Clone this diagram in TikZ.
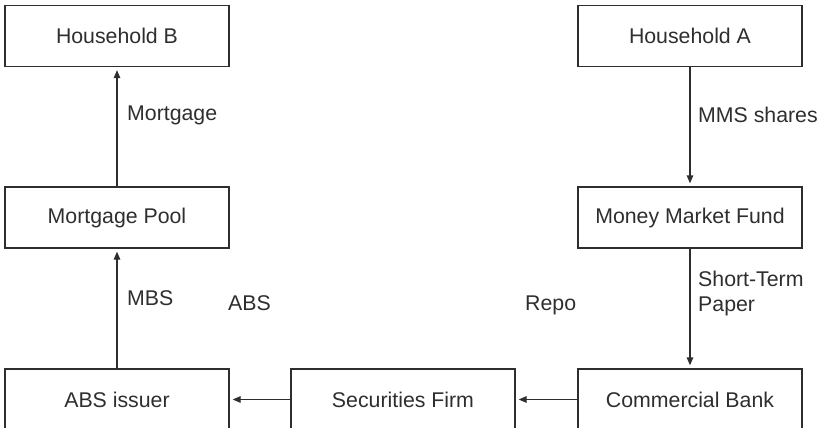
\documentclass[tikz,border=0pt]{standalone}
\usepackage{fontspec}
\setmainfont{Liberation Sans}
\usetikzlibrary{arrows.meta}
\definecolor{ink}{HTML}{2E2E2E}
\tikzset{
  box/.style={draw=ink, line width=1.3pt, minimum width=224pt, minimum height=61pt,
              inner sep=0pt, text=ink, font=\fontsize{21.3}{25}\selectfont},
  lbl/.style={anchor=west, inner sep=0pt, text=ink, align=left,
              font=\fontsize{21.3}{25.5}\selectfont},
  flow/.style={draw=ink, line width=1.3pt, -{Triangle[length=8pt,width=6.5pt]},
               shorten >=3pt}
}
\begin{document}
\begin{tikzpicture}[x=1pt, y=-1pt]
  \useasboundingbox (0,0) rectangle (823,428);
  \clip (0,0) rectangle (823,428);

  % top row
  \node[box] (hb)  at (117,36)    {Household B};
  \node[box] (ha)  at (690,36)    {Household A};
  % middle row
  \node[box] (mp)  at (117,217.5) {Mortgage Pool};
  \node[box] (mmf) at (690,217.5) {Money Market Fund};
  % bottom row
  \node[box] (abs) at (117,399.5) {ABS issuer};
  \node[box] (sf)  at (403,399.5) {Securities Firm};
  \node[box] (cb)  at (690,399.5) {Commercial Bank};

  % flows
  \draw[flow] (mp.north)  -- (hb.south);
  \draw[flow] (abs.north) -- (mp.south);
  \draw[flow] (ha.south)  -- (mmf.north);
  \draw[flow] (mmf.south) -- (cb.north);
  \draw[flow] (sf.west)   -- (abs.east);
  \draw[flow] (cb.west)   -- (sf.east);

  % labels
  \node[lbl] (lmort) at (127,115) {Mortgage};
  \node[lbl] (lmms)  at (698,115) {MMS shares};
  \node[lbl] (lmbs)  at (127,298) {MBS};
  \node[lbl] (labs)  at (228,303) {ABS};
  \node[lbl] (lrepo) at (525,305) {Repo};
  \node[lbl] (lstp)  at (698,293.5) {Short-Term\\Paper};
\end{tikzpicture}
\end{document}
